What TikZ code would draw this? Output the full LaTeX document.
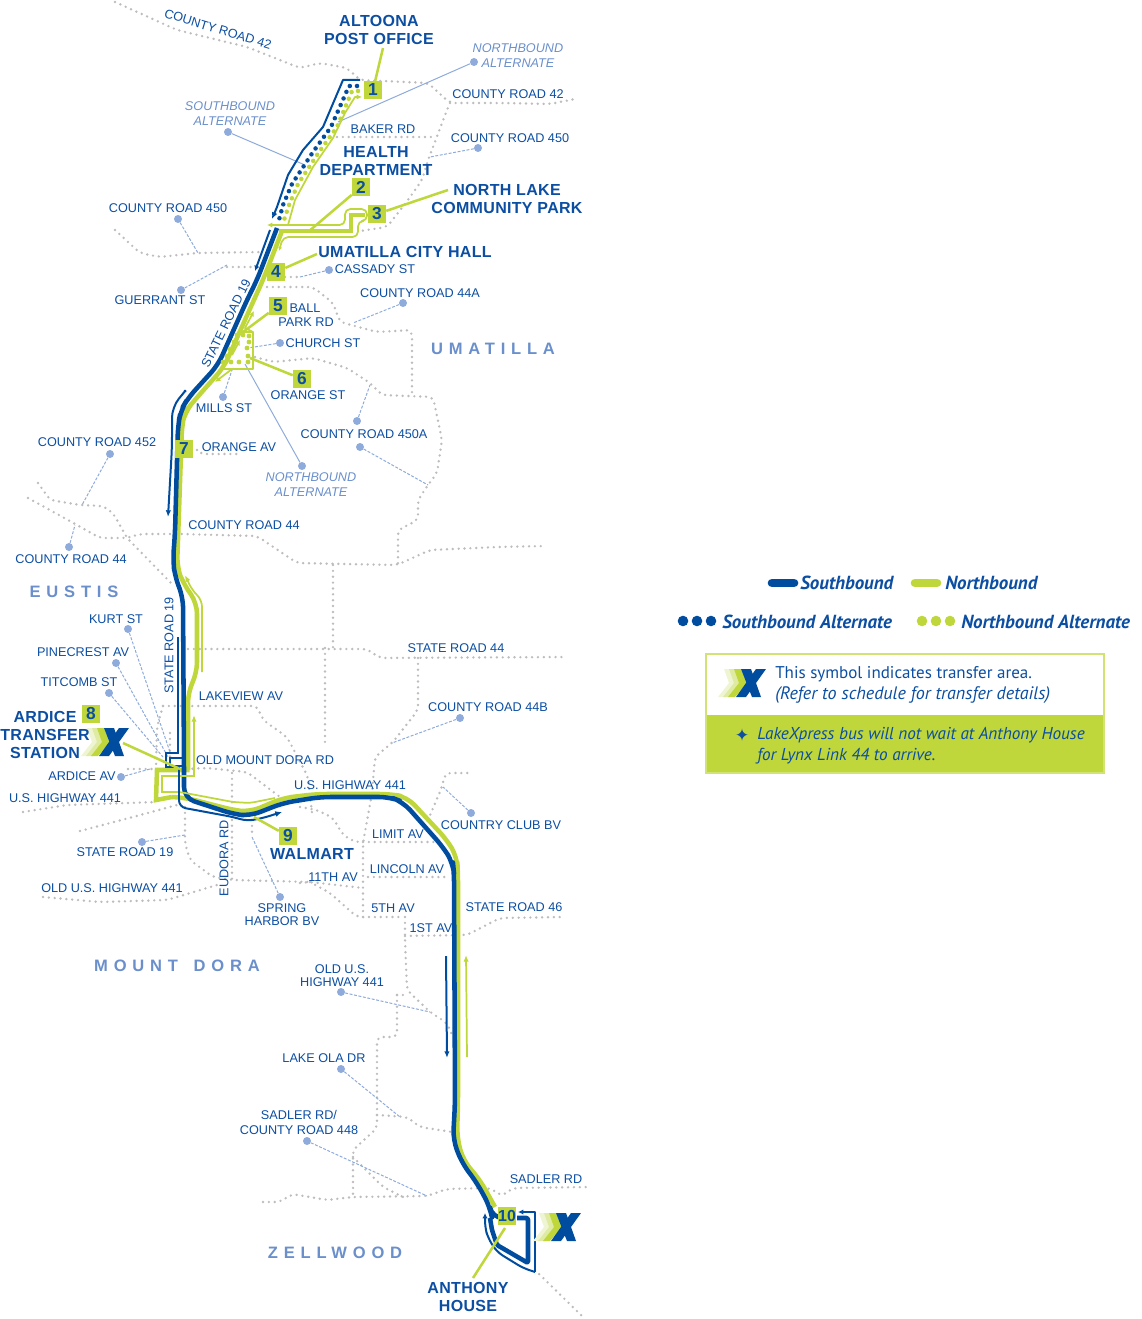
\documentclass[tikz,border=0pt]{standalone}
\usepackage{fontspec}
\setmainfont{Liberation Sans}
\newfontfamily\lgdfont{PT Sans}
\newfontfamily\symfont{DejaVu Sans}
\usetikzlibrary{arrows.meta}
\definecolor{rblue}{HTML}{004C9E}
\definecolor{tblue}{HTML}{0B4EA2}
\definecolor{rgreen}{HTML}{BFD73B}
\definecolor{rgray}{HTML}{BDBDBD}
\definecolor{lblue}{HTML}{8EABDB}
\definecolor{iblue}{HTML}{6A8FCB}
\definecolor{pale}{HTML}{EFF5D3}
\definecolor{pale2}{HTML}{DFEBA2}
\tikzset{
 road/.style={draw=rgray,line width=2pt,line cap=round,dash pattern=on 0pt off 4.4pt,rounded corners=4pt},
 lead/.style={draw=lblue,line width=0.75pt,dash pattern=on 2.2pt off 1.2pt},
 solidlead/.style={draw=lblue,line width=0.75pt},
 pt/.style={circle,fill=lblue,inner sep=0pt,minimum size=6pt},
 rd/.style={text=tblue,inner sep=0pt,align=center,yshift=-0.3pt,font=\fontsize{9.5}{11}\selectfont},
 ttl/.style={text=tblue,inner sep=0pt,align=center,yshift=-0.75pt,font=\fontsize{12}{13.5}\selectfont\bfseries\addfontfeature{LetterSpace=2}},
 alt/.style={text=iblue,inner sep=0pt,align=center,yshift=-0.4pt,font=\fontsize{9.5}{11.2}\selectfont\itshape},
 town/.style={text=iblue,inner sep=0pt,yshift=-0.75pt,font=\fontsize{12.4}{14}\selectfont\bfseries\addfontfeature{LetterSpace=35}},
 stopbox/.style={fill=rgreen,text=tblue,inner sep=0pt,minimum size=13.5pt,font=\fontsize{13}{14}\selectfont\bfseries},
 bluemain/.style={draw=rblue,line width=3.4pt,line join=round,rounded corners=8pt},
 greenmain/.style={draw=rgreen,line width=3.4pt,line join=round,rounded corners=8pt},
 bluethin/.style={draw=rblue,line width=1.5pt,line join=round},
 greenthin/.style={draw=rgreen,line width=1.3pt,line join=round},
 tie/.style={draw=rgreen,line width=1.9pt},
 bdots/.style={draw=rblue,line width=3.4pt,line cap=round,dash pattern=on 0pt off 5.4pt},
 gdots/.style={draw=rgreen,line width=3.4pt,line cap=round,dash pattern=on 0pt off 5.4pt},
 gdot/.style={circle,fill=rgreen,inner sep=0pt,minimum size=3.6pt},
 lg/.style={text=tblue,inner sep=0pt,anchor=west,yshift=-0.4pt,font=\lgdfont\fontsize{14.2}{16}\selectfont\bfseries\itshape},
 note/.style={text=tblue,inner sep=0pt,anchor=west,yshift=-0.4pt,font=\lgdfont\fontsize{12.75}{15}\selectfont},
 noteit/.style={note,font=\lgdfont\fontsize{12.9}{15}\selectfont\itshape},
 logo/.pic={
  \foreach \a/\c in {3/pale,8/pale2,13/rgreen}{
   \fill[\c] (\a,0)--(\a+7,0)--(\a+13,14)--(\a+1,28)--(\a-6,28)--(\a+5,14)--cycle;}
  \fill[rblue] (20,0)--(30,0)--(40,28)--(31,28)--cycle;
  \fill[rblue] (35,0)--(45,0)--(25,28)--(15,28)--cycle;
 }
}
\begin{document}
\begin{tikzpicture}[x=0.75pt,y=-0.75pt]
\useasboundingbox (0,0) rectangle (1141,1319);
% ---------- roads
\draw[road] (115,2)--(177,30)--(247,47)--(300,68)--(320,63)--(347,68)--(360,80)--(428,83)--(450,103)--(500,103)--(550,104)--(575,99);
\draw[road] (450,103)--(447,110)--(433,147)--(428,160)--(422,180)--(408,200)--(387,227)--(360,231);
\draw[road] (337,137)--(435,137);
\draw[road] (115,230)--(140,253)--(160,257)--(197,253)--(263,252);
\draw[road] (227,267)--(257,267);
\draw[road] (285,277)--(302,277);
\draw[road] (267,287)--(313,287)--(333,303)--(340,322)--(377,332)--(412,330)--(412,397);
\draw[road] (255,357)--(273,362)--(313,358)--(347,368)--(370,383)--(382,395)--(433,397)--(442,440)--(437,473)--(428,485)--(418,500)--(418,520)--(398,530)--(398,565);
\draw[road] (28,498)--(77,525)--(100,538)--(127,538)--(140,534)--(180,534)--(257,536)--(297,563)--(397,565)--(430,550)--(498,547)--(545,546);
\draw[road] (197,450)--(200,454)--(240,454);
\draw[road] (38,483)--(50,500)--(80,505)--(103,506)--(113,513)--(127,538)--(173,585);
\draw[road] (188,649)--(367,649)--(380,658)--(563,657);
\draw[road] (333,565)--(333,648);
\draw[road] (325,648)--(325,743);
\draw[road] (418,658)--(418,710)--(393,742)--(375,757)--(372,793)--(363,843)--(363,917);
\draw[road] (428,820)--(442,787)--(445,773)--(470,773);
\draw[road] (363,842)--(437,842);
\draw[road] (368,877)--(450,877);
\draw[road] (300,807)--(317,810)--(333,818)--(343,835)--(355,842)--(363,842);
\draw[road] (300,883)--(310,882)--(363,888);
\draw[road] (310,882)--(330,893)--(357,917)--(403,917);
\draw[road] (405,917)--(405,940)--(407,990)--(430,1012)--(447,1023)--(452,1035);
\draw[road] (405,936)--(467,935)--(500,918)--(563,917);
\draw[road] (397,995)--(408,995);
\draw[road] (397,995)--(397,1037)--(377,1037)--(377,1128)--(353,1150)--(353,1197);
\draw[road] (377,1115)--(407,1117)--(420,1127)--(452,1132);
\draw[road] (263,1202)--(280,1202)--(292,1194)--(327,1200)--(353,1197)--(427,1196)--(447,1189)--(490,1188)--(502,1196)--(513,1188)--(590,1187);
\draw[road] (353,1157)--(383,1187)--(403,1197);
\draw[road] (535,1270)--(583,1317);
\draw[road] (163,706)--(257,706)--(263,720)--(287,737)--(308,777)--(312,813);
\draw[road] (163,706)--(157,727)--(156,767);
\draw[road] (170,733)--(170,760);
\draw[road] (128,769)--(187,769)--(207,768)--(247,772)--(280,797);
\draw[road] (23,812)--(67,805)--(157,802);
\draw[road] (80,831)--(133,817)--(177,805);
\draw[road] (185,807)--(185,843)--(190,860)--(213,877)--(233,880)--(310,882);
\draw[road] (232,773)--(232,880);
\draw[road] (252,820)--(252,837);
\draw[road] (43,897)--(100,902)--(167,900)--(217,885);
% ---------- leader dots
\node[pt] (d1) at (474,62) {};
\node[pt] (d2) at (228,132) {};
\node[pt] (d3) at (478,148) {};
\node[pt] (d4) at (178,219) {};
\node[pt] (d5) at (181,290) {};
\node[pt] (d6) at (329,270) {};
\node[pt] (d7) at (403,303) {};
\node[pt] (d8) at (280,343) {};
\node[pt] (d9) at (223,397) {};
\node[pt] (d10) at (357,421) {};
\node[pt] (d11) at (360,447) {};
\node[pt] (d12) at (110,454) {};
\node[pt] (d13) at (302,466) {};
\node[pt] (d14) at (69,547) {};
\node[pt] (d15) at (128,629) {};
\node[pt] (d16) at (116,663) {};
\node[pt] (d17) at (109,693) {};
\node[pt] (d18) at (121,777) {};
\node[pt] (d19) at (142,842) {};
\node[pt] (d20) at (280,897) {};
\node[pt] (d21) at (460,718) {};
\node[pt] (d22) at (471,813) {};
\node[pt] (d23) at (341,992) {};
\node[pt] (d24) at (341,1069) {};
\node[pt] (d25) at (307,1141) {};
\coordinate (e1) at (338,122);
\coordinate (e2) at (305,165);
\coordinate (e3) at (430,157);
\coordinate (e4) at (198,253);
\coordinate (e5) at (227,265);
\coordinate (e6) at (300,277);
\coordinate (e7) at (353,323);
\coordinate (e8) at (248,348);
\coordinate (e9) at (233,367);
\coordinate (e10) at (370,385);
\coordinate (e11) at (428,485);
\coordinate (e12) at (82,505);
\coordinate (e13) at (245,364);
\coordinate (e14) at (75,525);
\coordinate (e15) at (170,752);
\coordinate (e16) at (168,757);
\coordinate (e17) at (163,757);
\coordinate (e18) at (150,769);
\coordinate (e19) at (185,835);
\coordinate (e20) at (252,837);
\coordinate (e21) at (392,743);
\coordinate (e22) at (443,787);
\coordinate (e23) at (430,1012);
\coordinate (e24) at (400,1117);
\coordinate (e25) at (427,1196);
\draw[solidlead] (d1)--(e1);
\draw[solidlead] (d2)--(e2);
\draw[solidlead] (d13)--(e13);
\foreach \i in {3,...,12,14,15,16,17,18,19,20,21,22,23,24,25}{\draw[lead] (d\i)--(e\i);}
% ---------- green main route
\draw[greenmain] (282,231)--(263,280)--(253,302)--(224,367)--(193,402)--(185,412)--(182,425)--(178,540)--(177,567)--(183,583)--(197,603)--(197,673)--(188,692)--(188,770);
\draw[greenmain,rounded corners=0pt,line join=miter] (189.5,770)--(157,770)--(156,800)--(172,797);
\draw[greenmain] (172,797)--(187,798)--(233,810)--(250,812)--(283,798)--(317,794)--(390,794)--(407,797)--(447,840)--(457,857)--(458,873)--(458,1103)--(457,1137)--(463,1160)--(480,1180)--(495,1207);
\draw[greenmain,rounded corners=0pt,line join=miter] (279,231)--(351,231)--(351,215)--(365,215);
% ---------- blue main route
\draw[bluemain] (277,228)--(257,280)--(247,300)--(218,365)--(188,398)--(181,410)--(178,425)--(175,533)--(173,560)--(175,577)--(183,597)--(184,767)--(184,798)--(233,814)--(250,816)--(283,803)--(320,797)--(390,797)--(403,802)--(443,847)--(453,863)--(454,873)--(455,1103)--(453,1140)--(462,1163)--(477,1183)--(490,1207)--(492,1218)--(500,1218);
\draw[bluemain,rounded corners=1pt] (517,1218)--(528,1218)--(528,1263)--(497,1245)--(492,1230)--(490,1218);
\draw[bluemain,rounded corners=0pt,line width=2.2pt] (170,757)--(170,766)--(186,766);
\draw[bluemain,rounded corners=0pt,line width=2.2pt] (170,758)--(186,758);
% ---------- alternates
\draw[bdots] (357,86)--(349,86)--(331,127)--(313,152)--(292,184)--(283,205)--(279,220);
\draw[gdots] (358,91)--(352,91)--(337,127)--(319,152)--(298,184)--(289,205)--(284,220);
\draw[bluethin,-{Latex[length=5pt,width=4.5pt]}] (360,80)--(343,80)--(323,127)--(303,150)--(288,175)--(277,207)--(272,219);
\draw[greenthin,-{Latex[length=4pt,width=4pt]}] (288,225)--(295,200)--(313,167)--(333,138)--(345,113)--(355,97)--(362,97);
\draw[greenthin,rounded corners=4pt,{Latex[length=4pt,width=4pt]}-{Latex[length=3pt,width=3pt]}] (267,225)--(345,225)--(345,209)--(367,209)--(367,221)--(358,221)--(358,237)--(283,237)--(279,251);
\draw[bluethin,-{Latex[length=4pt,width=4pt]}] (270,230)--(255,271);
% near 5/6
\draw[greenthin] (240,332)--(253,332)--(253,369)--(222,369);
\draw[greenthin,-{Latex[length=4pt,width=4pt]}] (253,332)--(245,328)--(254,311);
\draw[greenthin,-{Latex[length=4pt,width=4pt]}] (232,369)--(215,382);
\draw[greenthin,-{Latex[length=4pt,width=4pt]}] (232,355)--(240,340);
\foreach \x/\y in {237/335,243/335,249/336,249/342,247/348,248/356,248/362,239/362,231/362,223/362,227/356,230/349,234/342}{\node[gdot] at (\x,\y) {};}
% thin arrows
\draw[bluethin,{Circle[length=2pt,width=2pt]}-{Latex[length=5pt,width=4pt]},rounded corners=8pt] (186,390)--(172,407)--(172,447)--(168,517);
\draw[greenthin,-{Latex[length=5pt,width=4pt]},rounded corners=5pt] (202,672)--(202,600)--(192,590)--(185,575);
\draw[greenthin,rounded corners=3pt] (275,798)--(250,803)--(233,802)--(180,792)--(162,792);
\draw[greenthin,line join=miter,-{Latex[length=5pt,width=4pt]}] (162,792.6)--(162,776)--(194,776)--(194,715);
\draw[bluethin,line join=miter] (178,637)--(178,753)--(166,753)--(166,767)--(179,767)--(179,800);
\draw[bluethin,-{Latex[length=5pt,width=4.5pt]},rounded corners=5pt] (179,800)--(179,807)--(233,817)--(247,821)--(263,818)--(282,812);
\draw[bluethin,-{Latex[length=5pt,width=4pt]}] (446,956)--(447,1058);
\draw[greenthin,-{Latex[length=5pt,width=4pt]}] (467,1057)--(466,955);
\draw[bluethin,-{Latex[length=4pt,width=4pt]}] (535,1272)--(535,1212)--(518,1212);
\draw[bluethin,-{Latex[length=4pt,width=4pt]},rounded corners=5pt] (535,1272)--(523,1268)--(497,1252)--(488,1238)--(485,1227)--(485,1213);
% ---------- stop boxes and ties
\node[stopbox] (s1) at (373,90) {1};
\node[stopbox] (s2) at (361,187) {2};
\node[stopbox] (s3) at (377,214) {3};
\node[stopbox] (s4) at (276,272) {4};
\node[stopbox] (s5) at (278,306) {5};
\node[stopbox] (s6) at (302,379) {6};
\node[stopbox] (s7) at (184,449) {7};
\node[stopbox] (s8) at (91,714) {8};
\node[stopbox] (s9) at (288,836) {9};
\node[stopbox,font=\fontsize{12}{14}\selectfont\bfseries] (s10) at (507,1216) {10};
\coordinate (t1) at (383,48);
\coordinate (t2) at (308,232);
\coordinate (t3) at (448,190);
\coordinate (t4) at (317,254);
\coordinate (t5) at (243,332);
\coordinate (t6) at (250,358);
\coordinate (t8) at (180,769);
\coordinate (t9) at (254,817);
\coordinate (t10) at (473,1278);
\draw[tie] (t1)--(s1);
\draw[tie] (s2)--(t2);
\draw[tie] (t3)--(s3);
\draw[tie] (t4)--(s4);
\draw[tie] (s5)--(t5);
\draw[tie] (s6)--(t6);
\draw[tie] (123,743)--(t8);
\draw[tie] (s9)--(t9);
\draw[tie] (505,1228)--(t10);
% ---------- logos
\pic at (84,728) {logo};
\pic at (536,1213) {logo};
% ---------- labels
\node[rd,rotate=-17] (l1) at (218,29) {COUNTY ROAD 42};
\node[ttl] (l2) at (379,29) {ALTOONA\\POST OFFICE};
\node[alt] (l3) at (518,55) {NORTHBOUND\\ALTERNATE};
\node[rd] (l4) at (508,94) {COUNTY ROAD 42};
\node[rd] (l5) at (383,129) {BAKER RD};
\node[rd] (l6) at (510,138) {COUNTY ROAD 450};
\node[alt] (l7) at (230,113) {SOUTHBOUND\\ALTERNATE};
\node[ttl] (l8) at (376,160) {HEALTH\\DEPARTMENT};
\node[ttl] (l9) at (507,198) {NORTH LAKE\\COMMUNITY PARK};
\node[rd] (l10) at (168,208) {COUNTY ROAD 450};
\node[ttl] (l11) at (405,251) {UMATILLA CITY HALL};
\node[rd] (l12) at (375,269) {CASSADY ST};
\node[rd] (l13) at (160,300) {GUERRANT ST};
\node[rd] (l14) at (420,293) {COUNTY ROAD 44A};
\node[rd,rotate=64] (l15) at (226,323) {STATE ROAD 19};
\node[rd] (l16) at (305,308) {BALL};
\node[rd] (l17) at (306,322) {PARK RD};
\node[rd] (l18) at (323,343) {CHURCH ST};
\node[town] (l19) at (493,348) {UMATILLA};
\node[rd] (l20) at (308,395) {ORANGE ST};
\node[rd] (l21) at (224,408) {MILLS ST};
\node[rd] (l22) at (364,434) {COUNTY ROAD 450A};
\node[rd] (l23) at (239,447) {ORANGE AV};
\node[rd] (l24) at (97,442) {COUNTY ROAD 452};
\node[alt] (l25) at (311,484) {NORTHBOUND\\ALTERNATE};
\node[rd] (l26) at (244,525) {COUNTY ROAD 44};
\node[rd] (l27) at (71,559) {COUNTY ROAD 44};
\node[town] (l28) at (74,591) {EUSTIS};
\node[rd] (l29) at (116,619) {KURT ST};
\node[rd] (l30) at (83,652) {PINECREST AV};
\node[rd] (l31) at (79,682) {TITCOMB ST};
\node[rd,rotate=90] (l32) at (169,645) {STATE ROAD 19};
\node[rd] (l33) at (456,648) {STATE ROAD 44};
\node[rd] (l34) at (241,696) {LAKEVIEW AV};
\node[rd] (l35) at (488,707) {COUNTY ROAD 44B};
\node[ttl] (l36) at (45,716) {ARDICE};
\node[ttl] (l37) at (45,734) {TRANSFER};
\node[ttl] (l38) at (45,752) {STATION};
\node[rd] (l39) at (265,760) {OLD MOUNT DORA RD};
\node[rd] (l40) at (82,776) {ARDICE AV};
\node[rd] (l41) at (65,798) {U.S. HIGHWAY 441};
\node[rd] (l42) at (350,785) {U.S. HIGHWAY 441};
\node[rd] (l43) at (501,825) {COUNTRY CLUB BV};
\node[rd] (l44) at (398,834) {LIMIT AV};
\node[ttl] (l45) at (312,853) {WALMART};
\node[rd] (l46) at (125,852) {STATE ROAD 19};
\node[rd] (l47) at (407,869) {LINCOLN AV};
\node[rd] (l48) at (333,877) {11TH AV};
\node[rd,rotate=90] (l49) at (224,858) {EUDORA RD};
\node[rd] (l50) at (112,888) {OLD U.S. HIGHWAY 441};
\node[rd,font=\fontsize{9.5}{9.75}\selectfont] (l51) at (282,914) {SPRING\\HARBOR BV};
\node[rd] (l52) at (393,908) {5TH AV};
\node[rd] (l53) at (514,907) {STATE ROAD 46};
\node[rd] (l54) at (431,928) {1ST AV};
\node[town] (l55) at (177,965) {MOUNT\hspace{4pt} DORA};
\node[rd,font=\fontsize{9.5}{9.75}\selectfont] (l56) at (342,975) {OLD U.S.\\HIGHWAY 441};
\node[rd] (l57) at (324,1058) {LAKE OLA DR};
\node[rd] (l58) at (299,1122) {SADLER RD/\\COUNTY ROAD 448};
\node[rd] (l59) at (546,1179) {SADLER RD};
\node[town] (l60) at (335,1252) {ZELLWOOD};
\node[ttl] (l61) at (468,1296) {ANTHONY\\HOUSE};
% ---------- legend
\draw[rblue,line width=6.5pt,line cap=round] (772,583)--(794,583);
\node[lg] (k1) at (800,582) {Southbound};
\draw[rgreen,line width=6.5pt,line cap=round] (915,583)--(937,583);
\node[lg] (k2) at (945,582) {Northbound};
\foreach \x in {683,697,711}{\fill[rblue] (\x,621) circle[radius=5.3];}
\node[lg] (k3) at (722,621) {Southbound Alternate};
\foreach \x in {922,936,950}{\fill[rgreen] (\x,621) circle[radius=5.3];}
\node[lg] (k4) at (961,621) {Northbound Alternate};
\fill[rgreen] (706,715) rectangle (1105,774);
\draw[draw=rgreen!70,line width=1.1pt] (706,654) rectangle (1104,773);
\pic at (721,669) {logo};
\node[note] (k5) at (775,674) {This symbol indicates transfer area.};
\node[note,font=\lgdfont\fontsize{13.55}{15}\selectfont\itshape] (k6) at (775,695) {(Refer to schedule for transfer details)};
\node[text=tblue,inner sep=0pt,font=\symfont\fontsize{13}{14}\selectfont] (k7) at (742,735) {✦};
\node[noteit] (k8) at (757,735) {LakeXpress bus will not wait at Anthony House};
\node[noteit] (k9) at (757,756) {for Lynx Link 44 to arrive.};
\end{tikzpicture}
\end{document}
